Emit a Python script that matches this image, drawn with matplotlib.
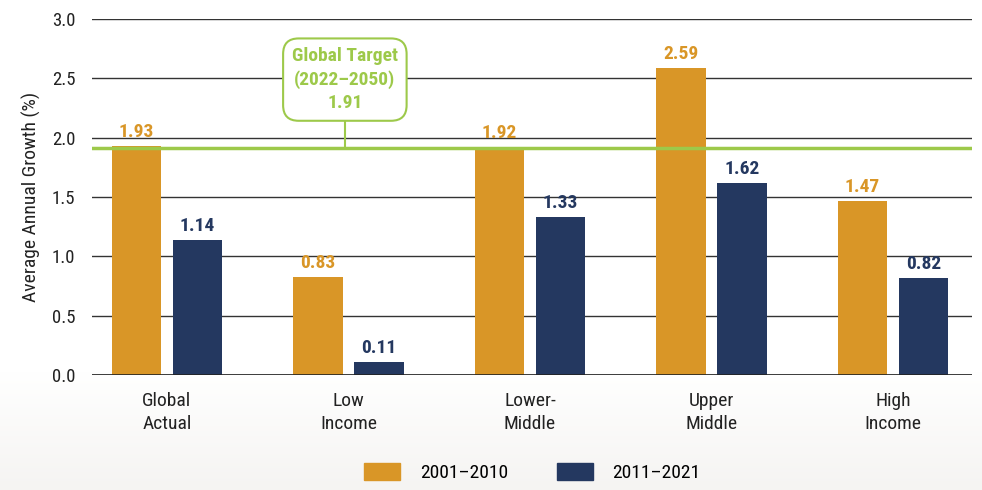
import numpy as np
import matplotlib.pyplot as plt
from matplotlib import font_manager as fm
from matplotlib.colors import LinearSegmentedColormap
from matplotlib.patches import Patch

# pick a narrow font, the original uses a condensed face
names = {f.name for f in fm.fontManager.ttflist}
if 'Roboto Condensed' in names:
    plt.rcParams['font.family'] = ['Roboto Condensed', 'DejaVu Sans']
elif 'Liberation Sans Narrow' in names:
    plt.rcParams['font.family'] = ['Liberation Sans Narrow', 'DejaVu Sans']
else:
    plt.rcParams['font.family'] = ['DejaVu Sans']
    plt.rcParams['font.stretch'] = 'condensed'

categories = ['Global\nActual', 'Low\nIncome', 'Lower-\nMiddle', 'Upper\nMiddle', 'High\nIncome']
growth_2001_2010 = [1.93, 0.83, 1.92, 2.59, 1.47]
growth_2011_2021 = [1.14, 0.11, 1.33, 1.62, 0.82]
series_labels = ['2001–2010', '2011–2021']
target = 1.91
target_text = 'Global Target\n(2022–2050)\n1.91'

orange = '#D99627'
navy = '#243860'
green = '#9DC94A'

fig = plt.figure(figsize=(9.82, 4.90), dpi=100)

# soft grey gradient under the plot
bg = fig.add_axes([0, 0, 1, 1], zorder=-10)
grad = np.linspace(0, 1, 256).reshape(-1, 1)
bg.imshow(grad, aspect='auto', extent=[0, 1, 0, 0.24], origin='lower',
          cmap=LinearSegmentedColormap.from_list('bg', ['#f5f4f2', '#ffffff']))
bg.set_xlim(0, 1)
bg.set_ylim(0, 1)
bg.axis('off')

ax = fig.add_axes([0.0937, 0.2347, 0.8961, 0.7263])
ax.patch.set_alpha(0)

x = np.arange(len(categories))
w = 0.275
off = 0.168
ax.bar(x - off, growth_2001_2010, w, color=orange, zorder=3)
ax.bar(x + off, growth_2011_2021, w, color=navy, zorder=3)

for xi, v in zip(x - off, growth_2001_2010):
    ax.text(xi, v + 0.04, f'{v:.2f}', ha='center', va='bottom', color=orange,
            fontsize=14, fontweight='bold', zorder=5)
for xi, v in zip(x + off, growth_2011_2021):
    ax.text(xi, v + 0.04, f'{v:.2f}', ha='center', va='bottom', color=navy,
            fontsize=14, fontweight='bold', zorder=5)

ax.set_xlim(-0.413, 4.435)
ax.set_ylim(0, 3.0)
ax.set_yticks(np.arange(0, 3.01, 0.5))
ax.yaxis.grid(True, color='#333333', linewidth=1, zorder=0)
ax.set_axisbelow(True)
for s in ax.spines.values():
    s.set_visible(False)
ax.axhline(0, color='#222222', linewidth=1.2, zorder=4)
ax.tick_params(length=0, labelsize=13.5, colors='#222222', pad=12)
ax.set_xticks(x)
ax.set_xticklabels(categories, fontsize=14, linespacing=1.4)
ax.tick_params(axis='x', pad=12)
ax.set_ylabel('Average Annual Growth (%)', fontsize=14, color='#222222', labelpad=8)

# target line with callout box
ax.axhline(target, color=green, linewidth=2.5, zorder=4)
bx = 0.98
ax.plot([bx, bx], [target, 2.15], color=green, linewidth=1.5, zorder=4)
ax.text(bx, 2.49, target_text, ha='center', va='center', color=green,
        fontsize=14, fontweight='bold', linespacing=1.35, zorder=6,
        bbox=dict(boxstyle='round,pad=0.45,rounding_size=0.8', fc='white',
                  ec=green, lw=1.5))

handles = [Patch(color=orange), Patch(color=navy)]
fig.legend(handles, series_labels, loc='center', bbox_to_anchor=(0.542, 0.035),
           ncol=2, frameon=False, fontsize=14, handlelength=1.85, handleheight=0.95,
           columnspacing=2.5, handletextpad=1.0)

fig.savefig('out.png', dpi=100)
